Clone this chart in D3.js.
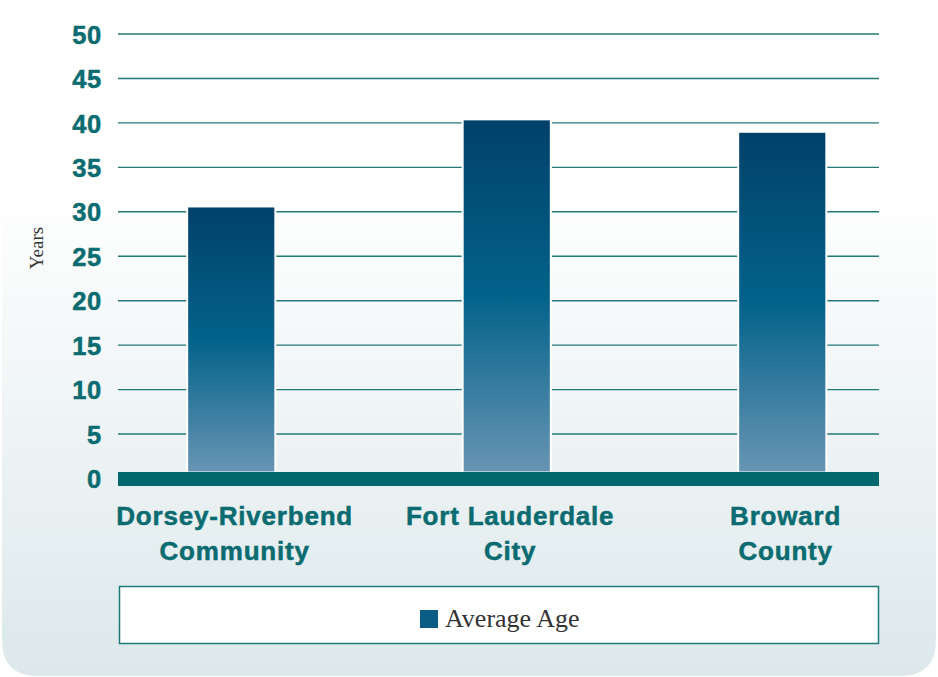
<!DOCTYPE html>
<html><head><meta charset="utf-8">
<script src="https://cdn.jsdelivr.net/npm/d3@7"></script>
<style>html,body{margin:0;padding:0;background:#fff;}svg{display:block;}</style>
</head><body>
<script>
const categories = [["Dorsey-Riverbend","Community"],["Fort Lauderdale","City"],["Broward","County"]];
const categoryKeys = ["Dorsey-Riverbend Community","Fort Lauderdale City","Broward County"];
const averageAge = [30.6, 40.4, 39.0];
const yTicks = [0,5,10,15,20,25,30,35,40,45,50];
const seriesName = "Average Age";
const yLabel = "Years";

const W = 938, H = 677;
const svg = d3.select("body").append("svg").attr("width", W).attr("height", H);
const defs = svg.append("defs");

const bg = defs.append("linearGradient").attr("id","bg")
  .attr("gradientUnits","userSpaceOnUse").attr("x1",0).attr("y1",190).attr("x2",0).attr("y2",677);
bg.append("stop").attr("offset",0).attr("stop-color","#ffffff");
bg.append("stop").attr("offset",1).attr("stop-color","#dce8eb");

const bar = defs.append("linearGradient").attr("id","bar").attr("x1",0).attr("y1",0).attr("x2",0).attr("y2",1);
bar.append("stop").attr("offset",0).attr("stop-color","#01416a");
bar.append("stop").attr("offset",0.5).attr("stop-color","#03628a");
bar.append("stop").attr("offset",1).attr("stop-color","#6895b4");

// panel with rounded bottom corners
const r = 36, px0 = 2, px1 = 936, py0 = 0, py1 = 676;
svg.append("path")
  .attr("d", `M${px0},${py0} H${px1} V${py1-r} Q${px1},${py1} ${px1-r},${py1} H${px0+r} Q${px0},${py1} ${px0},${py1-r} Z`)
  .attr("fill","url(#bg)");

const x = d3.scaleBand().domain(categoryKeys).range([93.5, 920]).paddingInner(0.68).paddingOuter(0.34);
const y = d3.scaleLinear().domain([0,50]).range([478.5, 34]);
const gx0 = 118, gx1 = 879;
const teal = "#0a6b70";
const sans = "'Liberation Sans', Arial, Helvetica, sans-serif";
const serif = "'Liberation Serif', 'Times New Roman', serif";

// grid
svg.append("g").selectAll("line").data(yTicks.filter(d=>d>0)).join("line")
  .attr("x1",gx0).attr("x2",gx1).attr("y1",d=>y(d)).attr("y2",d=>y(d))
  .attr("stroke","#237878").attr("stroke-width",1.4);

// y axis labels
const yAxis = d3.axisLeft(y).tickValues(yTicks).tickSize(0).tickPadding(0);
const ya = svg.append("g").attr("transform","translate(101.8,0)").call(yAxis);
ya.select(".domain").remove();
ya.selectAll("text").attr("font-family",sans).attr("font-weight","bold")
  .attr("font-size",25.5).attr("letter-spacing",0.6).attr("fill",teal)
  .attr("stroke",teal).attr("stroke-width",0.5).attr("dy","0.36em");

// bars
svg.append("g").selectAll("rect").data(averageAge).join("rect")
  .attr("x",(d,i)=>x(categoryKeys[i])).attr("width",x.bandwidth())
  .attr("y",d=>y(d)).attr("height",d=>y(0)-6-y(d))
  .attr("fill","url(#bar)").attr("stroke","#ffffff").attr("stroke-width",2);

// axis band
svg.append("rect").attr("x",gx0).attr("width",gx1-gx0).attr("y",y(0)-6.5).attr("height",14).attr("fill","#02686d");

// x labels
const xl = svg.append("g").selectAll("text").data(categories).join("text")
  .attr("x",(d,i)=>x(categoryKeys[i])+x.bandwidth()/2+3.4).attr("y",525)
  .attr("text-anchor","middle").attr("font-family",sans)
  .attr("font-weight","bold").attr("font-size",26).attr("letter-spacing",0.8)
  .attr("fill",teal).attr("stroke",teal).attr("stroke-width",0.5);
xl.each(function(d){
  const t = d3.select(this);
  d.forEach((line,j)=>t.append("tspan").attr("x",t.attr("x")).attr("dy", j===0?0:35).text(line));
});

// y title
svg.append("text").attr("transform","translate(42.5,248) rotate(-90)").attr("text-anchor","middle")
  .attr("font-family",serif).attr("font-size",19).attr("fill","#333")
  .text(yLabel);

// legend
svg.append("rect").attr("x",119.5).attr("y",586.5).attr("width",759).attr("height",57)
  .attr("fill","#fff").attr("stroke","#1f7a7a").attr("stroke-width",1.5);
svg.append("rect").attr("x",420).attr("y",610).attr("width",18).attr("height",18).attr("fill","#0b5d86");
svg.append("text").attr("x",445).attr("y",627).attr("font-family",serif)
  .attr("font-size",26).attr("fill","#333").text(seriesName);
</script>
</body></html>
